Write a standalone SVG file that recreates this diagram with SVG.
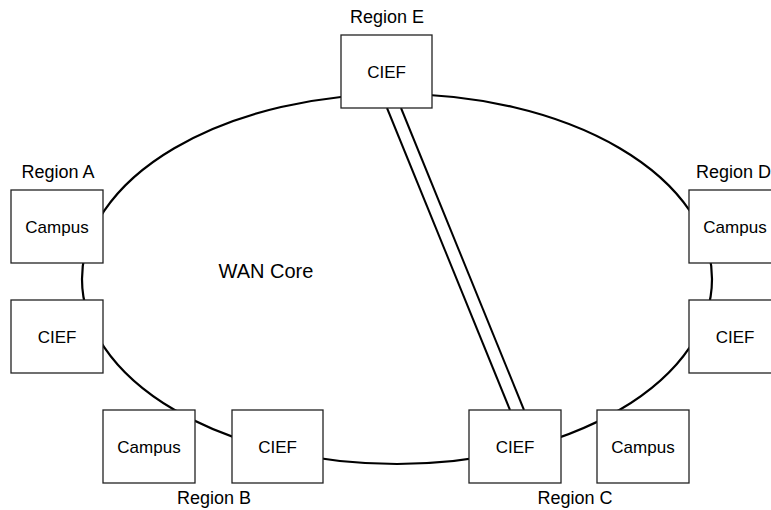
<svg xmlns="http://www.w3.org/2000/svg" width="771" height="510" viewBox="0 0 771 510">
<style>
.box{fill:#fff;stroke:#222;stroke-width:1.3}
.t{font-family:"Liberation Sans",Arial,sans-serif;font-size:17px;fill:#000;text-anchor:middle}
.r{font-size:18px}
.core{fill:none;stroke:#000;stroke-width:2.2}
.link{stroke:#000;stroke-width:2;fill:none}
</style>
<rect width="771" height="510" fill="#fff"/>
<g id="connectors">
<ellipse class="core" cx="397" cy="279" rx="315" ry="185"/>
<line class="link" x1="387" y1="108" x2="510" y2="410"/>
<line class="link" x1="401" y1="108" x2="524" y2="410"/>
</g>
<text class="t" x="266" y="278" style="font-size:20px">WAN Core</text>
<g id="regionA">
<text class="t r" x="58" y="178">Region A</text>
<g id="campusA"><rect class="box" x="11" y="190" width="92" height="73"/><text class="t" x="57" y="232.5">Campus</text></g>
<g id="ciefA"><rect class="box" x="11" y="300" width="92" height="73"/><text class="t" x="57" y="342.5">CIEF</text></g>
</g>
<g id="regionE">
<text class="t r" x="387" y="23">Region E</text>
<g id="ciefE"><rect class="box" x="341" y="35" width="91" height="73"/><text class="t" x="386.5" y="77.5">CIEF</text></g>
</g>
<g id="regionB">
<text class="t r" x="214" y="504">Region B</text>
<g id="campusB"><rect class="box" x="103" y="410" width="92" height="73"/><text class="t" x="149" y="452.5">Campus</text></g>
<g id="ciefB"><rect class="box" x="232" y="410" width="91" height="73"/><text class="t" x="277.5" y="452.5">CIEF</text></g>
</g>
<g id="regionC">
<text class="t r" x="575" y="504">Region C</text>
<g id="ciefC"><rect class="box" x="469" y="410" width="92" height="73"/><text class="t" x="515" y="452.5">CIEF</text></g>
<g id="campusC"><rect class="box" x="597" y="410" width="92" height="73"/><text class="t" x="643" y="452.5">Campus</text></g>
</g>
<g id="regionD">
<text class="t r" x="696" y="178" style="text-anchor:start">Region D</text>
<g id="campusD"><rect class="box" x="689" y="190" width="92" height="73"/><text class="t" x="735" y="232.5">Campus</text></g>
<g id="ciefD"><rect class="box" x="689" y="300" width="92" height="73"/><text class="t" x="735" y="342.5">CIEF</text></g>
</g>
</svg>
